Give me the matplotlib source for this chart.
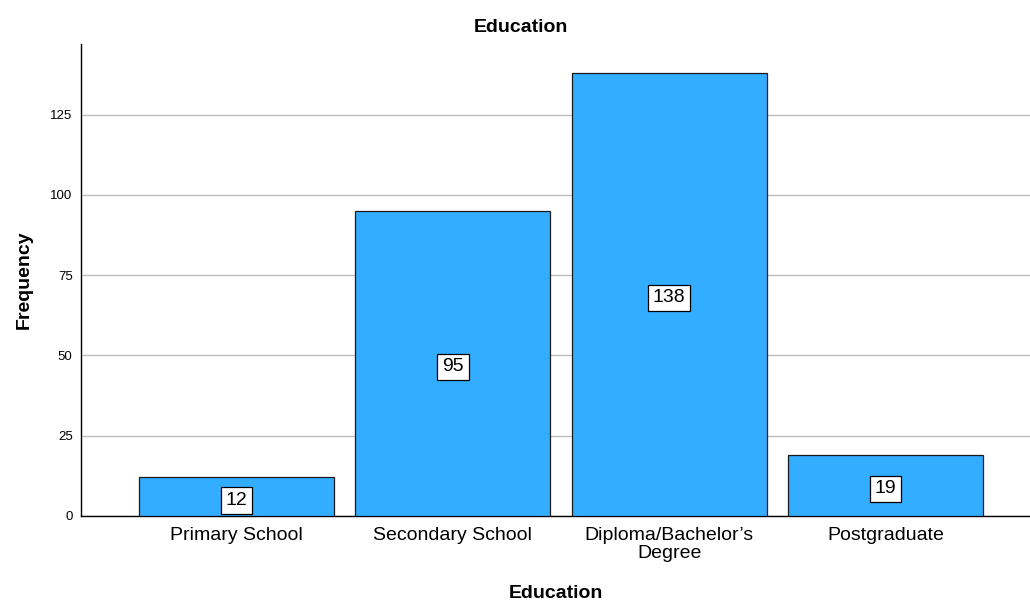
import matplotlib
matplotlib.use("Agg")
import matplotlib.pyplot as plt

categories = ["Primary School", "Secondary School", "Diploma/Bachelor\u2019s\nDegree", "Postgraduate"]
frequencies = [12, 95, 138, 19]
yticks = [0, 25, 50, 75, 100, 125]

plt.rcParams["font.family"] = ["Liberation Sans", "DejaVu Sans"]

fig = plt.figure(figsize=(10.3, 6.0), dpi=100)
ax = fig.add_axes([0.0786, 0.14, 0.9214, 0.7867])

x = list(range(len(categories)))
bars = ax.bar(x, frequencies, width=0.9, color="#33adff", edgecolor="#1a1a1a",
              linewidth=0.9, zorder=3)

for xi, v in zip(x, frequencies):
    ax.annotate(str(v), xy=(xi, v / 2), xytext=(0, -2.5), textcoords="offset points",
                ha="center", va="center", fontsize=14, zorder=4,
                bbox=dict(boxstyle="square,pad=0.25", facecolor="white",
                          edgecolor="black", linewidth=0.9))

ax.set_xlim(-0.719, 3.668)
ax.set_ylim(0, 147)
ax.set_yticks(yticks)
ax.set_yticklabels([str(t) for t in yticks], fontsize=9.5)
ax.set_xticks(x)
ax.set_xticklabels(categories, fontsize=14, linespacing=1.1)
ax.tick_params(axis="both", length=0)
ax.tick_params(axis="x", pad=8)
ax.tick_params(axis="y", pad=6)

ax.yaxis.grid(True, color="#bdbdbd", linewidth=1.0, zorder=0)
ax.set_axisbelow(True)

for s in ["top", "right"]:
    ax.spines[s].set_visible(False)
for s in ["left", "bottom"]:
    ax.spines[s].set_color("black")
    ax.spines[s].set_linewidth(1.0)

fig.suptitle("Education", x=0.506, y=0.968, fontsize=14, fontweight="bold", va="top")
ax.set_xlabel("Education", fontsize=14, fontweight="bold", labelpad=16)
ax.set_ylabel("Frequency", fontsize=14, fontweight="bold", labelpad=13)

fig.savefig("out.png", dpi=100)
